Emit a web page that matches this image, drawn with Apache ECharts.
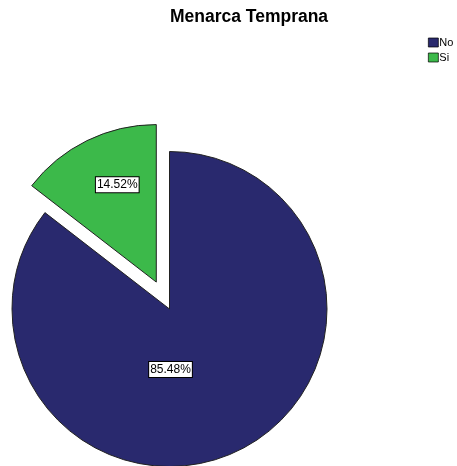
<!DOCTYPE html>
<html><head><meta charset="utf-8">
<script src="https://cdn.jsdelivr.net/npm/echarts@6/dist/echarts.min.js"></script>
<style>html,body{margin:0;padding:0;background:#fff}#c{width:457px;height:466px}</style>
</head><body><div id="c"></div>
<script>
var titleText = 'Menarca Temprana';
var categories = ['No', 'Si'];
var values = [85.48, 14.52];
var colors = ['#29296e', '#3cb94a'];

var chart = echarts.init(document.getElementById('c'), null, {renderer: 'canvas'});
var data = categories.map(function (c, i) {
  return {name: c, value: values[i], selected: c === 'Si', itemStyle: {color: colors[i]}};
});
chart.setOption({
  animation: false,
  backgroundColor: '#fff',
  title: {
    text: titleText, left: 249, top: 8, textAlign: 'center', padding: 0,
    textStyle: {fontFamily: 'Liberation Sans, Arial, sans-serif', fontSize: 17.5, fontWeight: 'bold', color: '#000'}
  },
  legend: {
    orient: 'vertical', left: 428, top: 37, padding: 0, itemWidth: 10, itemHeight: 9, itemGap: 4,
    icon: 'rect', selectedMode: false,
    itemStyle: {borderColor: '#000', borderWidth: 0.7},
    textStyle: {fontFamily: 'Liberation Sans, Arial, sans-serif', fontSize: 11, color: '#000', padding: [0, 0, 0, -4]},
    data: categories
  },
  series: [{
    type: 'pie',
    center: [169.5, 309],
    radius: [0, 157.5],
    startAngle: 90,
    clockwise: true,
    selectedMode: 'single',
    selectedOffset: 30,
    avoidLabelOverlap: false,
    itemStyle: {borderColor: '#222', borderWidth: 1},
    emphasis: {disabled: true},
    label: {
      show: true, position: 'inside',
      formatter: function (p) { return p.value.toFixed(2) + '%'; },
      fontFamily: 'Liberation Sans, Arial, sans-serif', fontSize: 12, color: '#000',
      backgroundColor: '#fff', borderColor: '#000', borderWidth: 1, padding: [2, 1, 1, 1]
    },
    labelLayout: function (p) {
      return p.dataIndex === 0 ? {dx: -35, dy: -13} : {dx: -3, dy: -24};
    },
    data: data
  }]
});
</script></body></html>
